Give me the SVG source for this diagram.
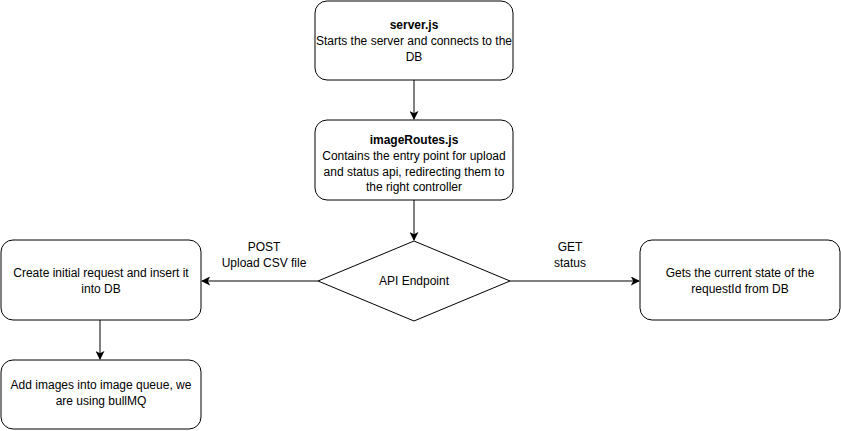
<svg xmlns="http://www.w3.org/2000/svg" width="841" height="431" viewBox="0 0 841 431">
<defs>
<style>
.box{fill:#fff;stroke:#000;stroke-width:1}
.t{font-family:"Liberation Sans",Arial,sans-serif;font-size:12px;fill:#000;text-anchor:middle}
.b{font-weight:bold}
.c{fill:none;stroke:#000;stroke-width:1}
</style>
<marker id="ah" viewBox="0 0 10 10" refX="9" refY="5" markerWidth="9" markerHeight="9" markerUnits="userSpaceOnUse" orient="auto">
<path d="M0,0 L10,5 L0,10 L2.5,5 Z" fill="#000"/>
</marker>
</defs>
<rect width="841" height="431" fill="#fff"/>
<g id="connectors">
<line class="c" x1="414" y1="80" x2="414" y2="119" marker-end="url(#ah)"/>
<line class="c" x1="414" y1="200" x2="414" y2="240" marker-end="url(#ah)"/>
<line class="c" x1="318" y1="281" x2="202" y2="281" marker-end="url(#ah)"/>
<line class="c" x1="510" y1="281" x2="639" y2="281" marker-end="url(#ah)"/>
<line class="c" x1="100" y1="320" x2="100" y2="359" marker-end="url(#ah)"/>
<text class="t" x="264" y="251">POST</text>
<text class="t" x="264" y="267">Upload CSV file</text>
<text class="t" x="570" y="251">GET</text>
<text class="t" x="570" y="267">status</text>
</g>
<g id="server">
<rect class="box" x="315" y="1" width="198" height="79" rx="12"/>
<text class="t b" x="414" y="29">server.js</text>
<text class="t" x="414" y="45">Starts the server and connects to the</text>
<text class="t" x="414" y="61">DB</text>
</g>
<g id="imageRoutes">
<rect class="box" x="315" y="120" width="198" height="80" rx="12"/>
<text class="t b" x="414" y="144">imageRoutes.js</text>
<text class="t" x="414" y="160">Contains the entry point for upload</text>
<text class="t" x="414" y="176">and status api, redirecting them to</text>
<text class="t" x="414" y="191">the right controller</text>
</g>
<g id="api">
<path class="box" d="M414,241 L510,281 L414,321 L318,281 Z"/>
<text class="t" x="414" y="285">API Endpoint</text>
</g>
<g id="create">
<rect class="box" x="1" y="240" width="200" height="80" rx="12"/>
<text class="t" x="101" y="277">Create initial request and insert it</text>
<text class="t" x="101" y="293">into DB</text>
</g>
<g id="status">
<rect class="box" x="640" y="240" width="200" height="80" rx="12"/>
<text class="t" x="740" y="277">Gets the current state of the</text>
<text class="t" x="740" y="293">requestId from DB</text>
</g>
<g id="queue">
<rect class="box" x="1" y="360" width="200" height="69" rx="12"/>
<text class="t" x="101" y="389">Add images into image queue, we</text>
<text class="t" x="101" y="405">are using bullMQ</text>
</g>
</svg>
